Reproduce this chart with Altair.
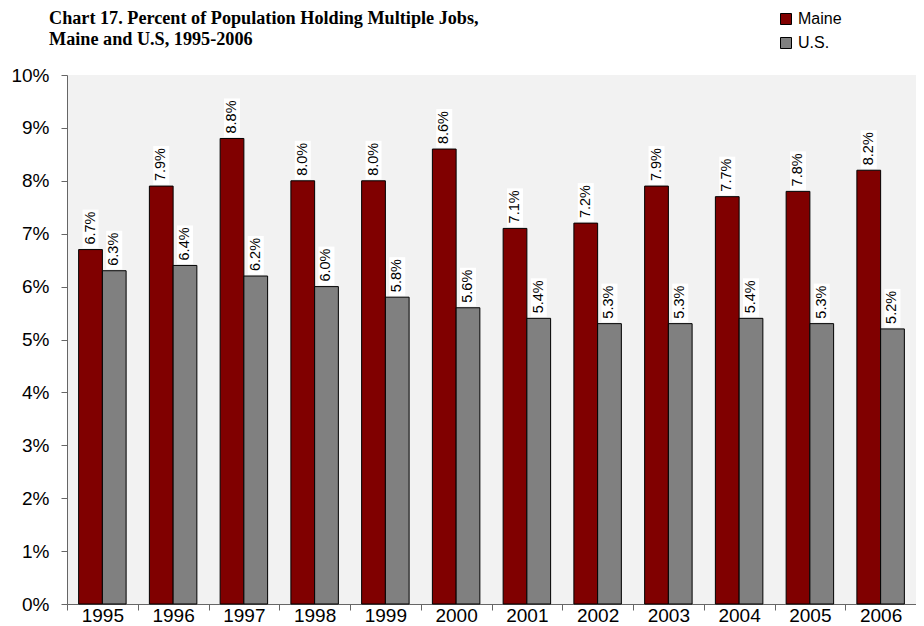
import altair as alt
import pandas as pd

years = ["1995", "1996", "1997", "1998", "1999", "2000", "2001", "2002", "2003", "2004", "2005", "2006"]
maine = [6.7, 7.9, 8.8, 8.0, 8.0, 8.6, 7.1, 7.2, 7.9, 7.7, 7.8, 8.2]
us = [6.3, 6.4, 6.2, 6.0, 5.8, 5.6, 5.4, 5.3, 5.3, 5.4, 5.3, 5.2]
series = ["Maine", "U.S."]
colors = ["#800000", "#808080"]
title_lines = ["Chart 17. Percent of Population Holding Multiple Jobs,", "Maine and U.S, 1995-2006"]

rows = []
for i, y in enumerate(years):
    rows.append({"year": y, "series": "Maine", "value": maine[i] / 100, "label": f"{maine[i]:.1f}%"})
    rows.append({"year": y, "series": "U.S.", "value": us[i] / 100, "label": f"{us[i]:.1f}%"})
df = pd.DataFrame(rows)

x_enc = alt.X("year:N", sort=years, title=None,
              scale=alt.Scale(paddingInner=0, paddingOuter=0),
              axis=alt.Axis(labelAngle=0, tickBand="extent", labelFont="Liberation Sans",
                            labelFontSize=19, labelColor="#000", domainColor="#666",
                            tickColor="#666", tickSize=6, labelPadding=-4))
xoff = alt.XOffset("series:N", sort=series, scale=alt.Scale(paddingOuter=0.49, paddingInner=0))
y_enc = alt.Y("value:Q", title=None,
              scale=alt.Scale(domain=[0, 0.1], nice=False),
              axis=alt.Axis(values=[i / 100 for i in range(11)], format=".0%", grid=False,
                            labelFont="Liberation Sans", labelFontSize=19, labelColor="#000",
                            domainColor="#666", tickColor="#666", tickSize=6, labelPadding=12))

bars = alt.Chart(df).mark_bar(stroke="#000", strokeWidth=1).encode(
    x=x_enc, xOffset=xoff, y=y_enc,
    color=alt.Color("series:N", sort=series, scale=alt.Scale(domain=series, range=colors),
                    legend=alt.Legend(title=None, orient="none", legendX=711, legendY=-64,
                                      symbolType="square", symbolSize=121,
                                      symbolStrokeColor="#000", symbolStrokeWidth=1,
                                      labelFont="Liberation Sans", labelFontSize=16,
                                      labelColor="#000", rowPadding=8, labelOffset=4)),
)

boxes = alt.Chart(df).mark_point(
    shape="M-0.8,-0.15L0.8,-0.15L0.8,-4.0L-0.8,-4.0Z", filled=True, color="white",
    opacity=1, size=400, strokeWidth=0).encode(
    x=alt.X("year:N", sort=years), xOffset=alt.XOffset("series:N", sort=series), y="value:Q",
)

text = alt.Chart(df).mark_text(angle=270, align="left", baseline="middle", dx=5,
                               font="Liberation Sans", fontSize=14.5, color="#000").encode(
    x=alt.X("year:N", sort=years), xOffset=alt.XOffset("series:N", sort=series), y="value:Q",
    text="label:N",
)

t1 = alt.Chart(pd.DataFrame({"t": [title_lines[0]]})).mark_text(
    align="left", baseline="alphabetic", font="Liberation Serif", fontSize=18.2,
    fontWeight="bold", color="#000").encode(x=alt.value(-18), y=alt.value(-51), text="t:N")
t2 = alt.Chart(pd.DataFrame({"t": [title_lines[1]]})).mark_text(
    align="left", baseline="alphabetic", font="Liberation Serif", fontSize=18.2,
    fontWeight="bold", color="#000").encode(x=alt.value(-18), y=alt.value(-30), text="t:N")

chart = (bars + boxes + text + t1 + t2).properties(
    width=849, height=529,
    padding={"left": 59, "top": 67, "right": 0, "bottom": 22},
    autosize=alt.AutoSizeParams(type="none"),
).configure_view(fill="#f2f2f2", stroke=None)

chart.save("out.html", embed_options={"renderer": "svg", "actions": False})
